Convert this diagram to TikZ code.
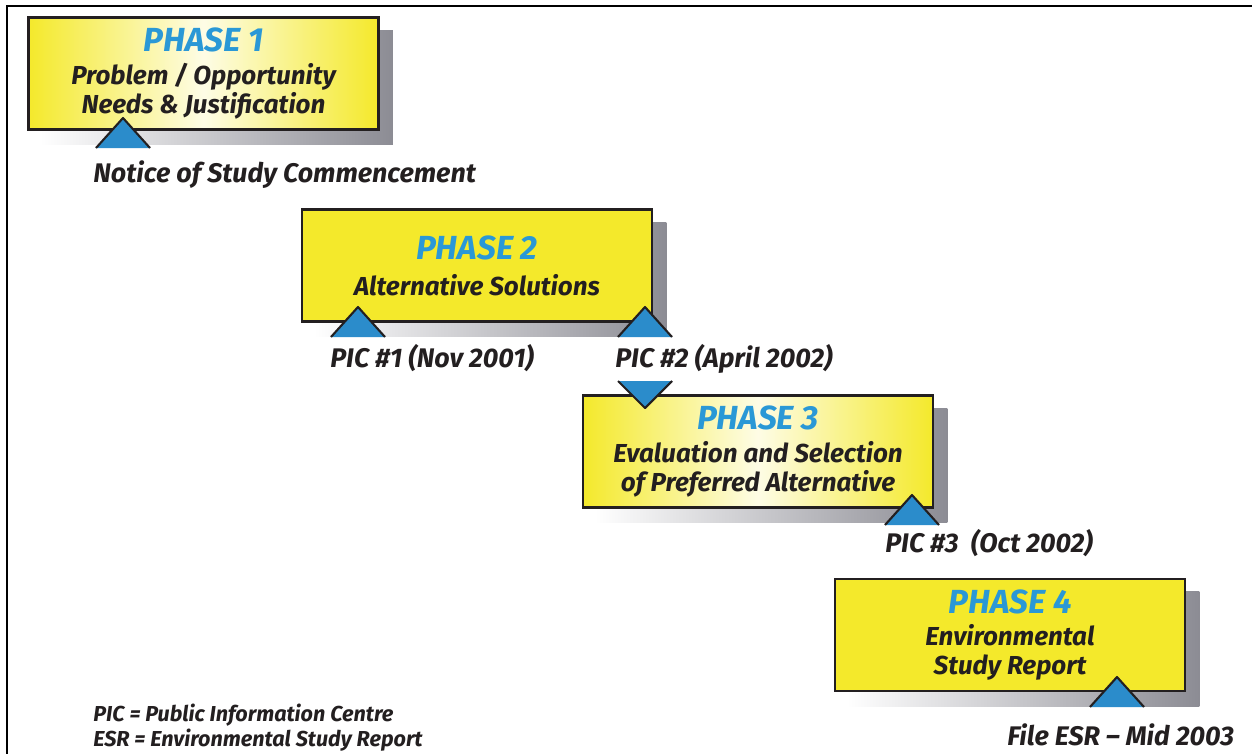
\documentclass[tikz,border=0pt]{standalone}
\usepackage{fontspec}
\setmainfont{Fira Sans}
\usetikzlibrary{calc,backgrounds}

\definecolor{phaseyellow}{HTML}{F4E92B}
\definecolor{phaseblue}{HTML}{2A98D6}
\definecolor{markblue}{HTML}{2B8CCB}
\definecolor{shadowgray}{HTML}{8C8C94}
\definecolor{inkblack}{HTML}{231F20}

\newcommand{\phasetitle}[1]{{\color{phaseblue}\fontsize{19}{20}\selectfont #1}}

\tikzset{
  phasebox/.style={draw=inkblack, line width=1.6pt, fill=phaseyellow,
    minimum width=7cm, minimum height=2.24cm, align=center, text=inkblack,
    font=\bfseries\itshape\fontsize{14.8}{16.4}\selectfont},
  glowbox/.style={left color=phaseyellow, right color=phaseyellow,
    middle color=phaseyellow!12},
  boxshadow/.style={left color=white, right color=shadowgray},
  milestone/.style={anchor=base west, inner sep=0pt, text=inkblack,
    font=\bfseries\itshape\fontsize{15.3}{18}\selectfont},
  legend/.style={anchor=base west, inner sep=0pt, text=inkblack,
    font=\bfseries\itshape\fontsize{12.3}{13}\selectfont},
  upmark/.pic={
    \fill[markblue] (0,0) -- (27,30) -- (-27,30) -- cycle;
    \draw[inkblack, line width=1.2pt, line join=round] (-27,30) -- (0,0) -- (27,30);
  },
  downmark/.pic={
    \fill[markblue] (0,0) -- (27,-27) -- (-27,-27) -- cycle;
    \draw[inkblack, line width=1.2pt, line join=round] (-27,-27) -- (0,0) -- (27,-27);
  }
}

\begin{document}
\begin{tikzpicture}[x=0.02cm, y=-0.02cm]
\useasboundingbox (0,0) rectangle (1252,754);
\draw[line width=1.3pt] (7,754) -- (7,6) -- (1252,6);

\node[phasebox, glowbox] (phase1) at (203.5,73.5)
  {\phasetitle{PHASE 1}\\[2.3pt] Problem / Opportunity\\ Needs \& Justification};
\node[phasebox] (phase2) at (477,265.5)
  {\phasetitle{PHASE 2}\\[4pt] Alternative Solutions};
\node[phasebox, glowbox] (phase3) at (758,451.5)
  {\phasetitle{PHASE 3}\\[2.3pt] Evaluation and Selection\\ of Preferred Alternative};
\node[phasebox] (phase4) at (1010,635)
  {\phasetitle{PHASE 4}\\[2.3pt] Environmental\\ Study Report};

% shadows behind the boxes
\begin{scope}[on background layer]
  \fill[white] (0,0) rectangle (1252,754);
  \foreach \p in {phase1,phase2,phase3,phase4}
    \fill[boxshadow] ($(\p.north west)+(13,14)$) rectangle ($(\p.south east)+(13,14)$);
\end{scope}

\pic at (123,118) {upmark};
\pic at (358,307) {upmark};
\pic at (645,307) {upmark};
\pic at (645,408) {downmark};
\pic at (912,495) {upmark};
\pic at (1117,677) {upmark};

\node[milestone] (notice) at (93,182) {Notice of Study Commencement};
\node[milestone] (pic1) at (330,367) {PIC \#1 (Nov 2001)};
\node[milestone] (pic2) at (615,367) {PIC \#2 (April 2002)};
\node[milestone] (pic3) at (885,552) {PIC \#3\ \ (Oct 2002)};
\node[milestone] (fileesr) at (1007,745) {File ESR -- Mid 2003};

\node[legend] (legpic) at (93,721) {PIC = Public Information Centre};
\node[legend] (legesr) at (93,746) {ESR = Environmental Study Report};
\end{tikzpicture}
\end{document}
